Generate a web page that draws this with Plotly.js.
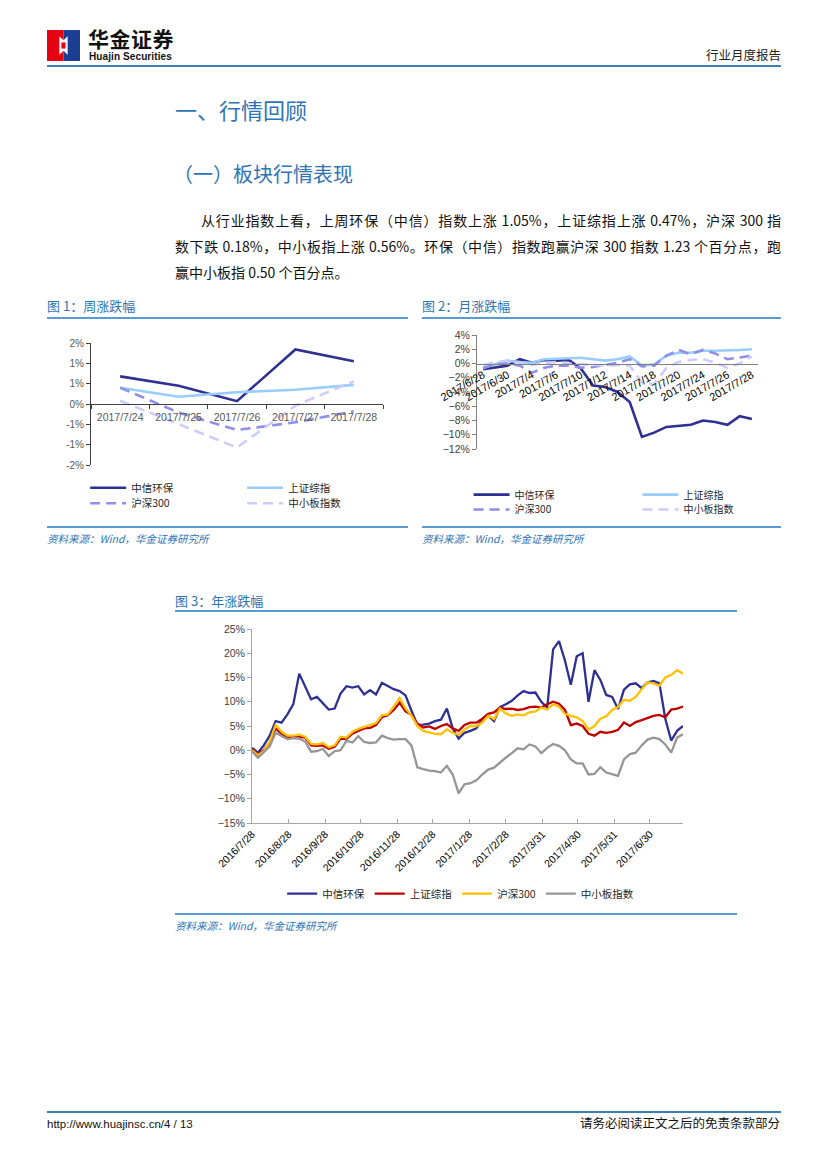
<!DOCTYPE html>
<html><head><meta charset="utf-8">
<script src="https://cdn.plot.ly/plotly-3.0.1.min.js"></script>
<style>
body{margin:0;width:827px;height:1169px;position:relative;background:#fff;overflow:hidden;font-family:"Liberation Sans",Arial,"Noto Sans CJK SC",sans-serif}
.a{position:absolute;white-space:nowrap;line-height:1.15}
.cjk{font-family:"Noto Sans CJK SC","Liberation Sans",sans-serif}
.ttl{font-size:13px;color:#2E74B5}
.src{font-size:10.5px;color:#2E74B5;font-style:italic}
.hl{position:absolute;height:1.5px;background:#5B9BD5}
.p{position:absolute;font-size:14px;line-height:26px;color:#111;white-space:nowrap;font-family:"Noto Sans CJK SC","Liberation Sans",sans-serif}
.j{text-align:justify;text-align-last:justify;white-space:normal}
</style></head><body>

<!-- header -->
<svg class="a" style="left:47px;top:30px" width="33" height="31" viewBox="0 0 32 30">
<rect x="0" y="0" width="16" height="30" fill="#E50012"/>
<rect x="16" y="0" width="16" height="30" fill="#1B3E93"/>
<polygon points="12,6 16,10 20,6 20,24 16,20 12,24" fill="#fff"/>
<rect x="14" y="12" width="4" height="6" fill="#E50012"/>
</svg>
<div class="a cjk" style="left:88px;top:28px;font-size:21px;line-height:1;font-weight:700;color:#111;letter-spacing:0.5px">华金证券</div>
<div class="a" style="left:89px;top:52px;font-size:10px;line-height:1;font-weight:700;color:#111;letter-spacing:0.1px">Huajin Securities</div>
<div class="a cjk" style="left:706px;top:49px;font-size:12.5px;line-height:1;color:#222">行业月度报告</div>
<div class="a" style="left:47px;top:65px;width:734px;height:2px;background:#3B7EB8"></div>

<div class="a cjk" style="left:175px;top:96px;font-size:22px;line-height:1.2;color:#2E74B5">一、行情回顾</div>
<div class="a cjk" style="left:173px;top:162px;font-size:20px;line-height:1.2;color:#2E74B5">（一）板块行情表现</div>

<div class="p j" style="left:201px;top:207px;width:580px">从行业指数上看，上周环保（中信）指数上涨 1.05%，上证综指上涨 0.47%，沪深 300 指</div>
<div class="p j" style="left:175px;top:233px;width:606px">数下跌 0.18%，中小板指上涨 0.56%。环保（中信）指数跑赢沪深 300 指数 1.23 个百分点，跑</div>
<div class="p" style="left:175px;top:259px">赢中小板指 0.50 个百分点。</div>

<!-- chart frames -->
<div class="a cjk ttl" style="left:47px;top:299px">图 1：周涨跌幅</div>
<div class="hl" style="left:47px;top:317px;width:361px"></div>
<div class="a cjk ttl" style="left:422px;top:299px">图 2：月涨跌幅</div>
<div class="hl" style="left:422px;top:317px;width:359px"></div>
<div class="hl" style="left:47px;top:526px;width:361px"></div>
<div class="hl" style="left:422px;top:526px;width:359px"></div>
<div class="a cjk src" style="left:47px;top:533px">资料来源：Wind，华金证券研究所</div>
<div class="a cjk src" style="left:422px;top:533px">资料来源：Wind，华金证券研究所</div>

<div class="a cjk ttl" style="left:175px;top:594px">图 3：年涨跌幅</div>
<div class="hl" style="left:175px;top:610px;width:562px"></div>
<div class="hl" style="left:175px;top:913px;width:562px"></div>
<div class="a cjk src" style="left:175px;top:920px">资料来源：Wind，华金证券研究所</div>

<div id="c1" class="a" style="left:40px;top:330px;width:370px;height:200px"></div>
<div id="c2" class="a" style="left:415px;top:325px;width:375px;height:200px"></div>
<div id="c3" class="a" style="left:170px;top:615px;width:570px;height:300px"></div>

<!-- footer -->
<div class="a" style="left:47px;top:1111px;width:734px;height:2px;background:#3B7EB8"></div>
<div class="a" style="left:47px;top:1118px;font-size:11.5px;color:#111">http://www.huajinsc.cn/4 / 13</div>
<div class="a cjk" style="left:580px;top:1116px;font-size:12.5px;color:#111">请务必阅读正文之后的免责条款部分</div>

<script>
// ---- shared ----
const seriesNames = ['中信环保', '上证综指', '沪深300', '中小板指数'];

// ---- chart 1: weekly (%) ----
const weekDates = ['2017/7/24', '2017/7/25', '2017/7/26', '2017/7/27', '2017/7/28'];
const weekHB  = [0.68, 0.45, 0.07, 1.34, 1.05];
const weekSZ  = [0.40, 0.18, 0.29, 0.35, 0.47];
const weekHS  = [0.40, -0.21, -0.64, -0.45, -0.18];
const weekZXB = [0.08, -0.50, -1.07, -0.04, 0.56];
const weekTickVals = [-1.5, -1, -0.5, 0, 0.5, 1, 1.5];
const weekTickText = ['-2%', '-1%', '-1%', '0%', '1%', '1%', '2%'];

// ---- chart 2: monthly (%) ----
const monthDates = ['2017/6/28','2017/6/29','2017/6/30','2017/7/3','2017/7/4','2017/7/5','2017/7/6','2017/7/7',
  '2017/7/10','2017/7/11','2017/7/12','2017/7/13','2017/7/14','2017/7/17','2017/7/18','2017/7/19','2017/7/20',
  '2017/7/21','2017/7/24','2017/7/25','2017/7/26','2017/7/27','2017/7/28'];
const monthHB  = [-0.8,-0.6,-0.3,0.6,0.1,0.5,0.4,0.5,-0.7,-3.1,-3.3,-4.0,-5.4,-10.3,-9.7,-8.9,-8.7,-8.6,-8.0,-8.2,-8.6,-7.4,-7.8];
const monthSZ  = [-0.6,-0.1,0.4,0.2,0.1,0.6,0.7,0.8,0.8,0.6,0.4,0.6,1.0,-0.3,-0.1,1.1,1.5,1.5,1.8,1.8,1.8,1.9,2.0];
const monthHS  = [-0.7,0.0,0.0,-0.3,-1.3,-0.6,-0.3,-0.3,-0.6,-0.5,-0.2,0.1,0.6,-0.4,-0.3,1.1,1.9,1.3,1.9,1.4,0.6,0.8,1.1];
const monthZXB = [-0.2,0.2,0.4,0.1,-0.2,0.1,0.2,0.0,-0.1,-0.2,-0.3,-0.2,-0.3,-2.7,-2.9,-0.6,0.2,0.5,0.6,0.1,-0.6,0.0,1.0];

// ---- chart 3: yearly (%) ----
const yearDates = ['2016-07-28','2016-08-02','2016-08-07','2016-08-12','2016-08-17','2016-08-22','2016-08-27','2016-09-01',
  '2016-09-06','2016-09-11','2016-09-16','2016-09-21','2016-09-26','2016-10-01','2016-10-06','2016-10-11','2016-10-16',
  '2016-10-21','2016-10-26','2016-10-31','2016-11-05','2016-11-10','2016-11-15','2016-11-20','2016-11-25','2016-11-30',
  '2016-12-05','2016-12-10','2016-12-15','2016-12-20','2016-12-25','2016-12-30','2017-01-04','2017-01-09','2017-01-14',
  '2017-01-19','2017-01-24','2017-01-29','2017-02-03','2017-02-08','2017-02-13','2017-02-18','2017-02-23','2017-02-28',
  '2017-03-05','2017-03-10','2017-03-15','2017-03-20','2017-03-25','2017-03-30','2017-04-04','2017-04-09','2017-04-14',
  '2017-04-19','2017-04-24','2017-04-29','2017-05-04','2017-05-09','2017-05-14','2017-05-19','2017-05-24','2017-05-29',
  '2017-06-03','2017-06-08','2017-06-13','2017-06-18','2017-06-23','2017-06-28','2017-07-03','2017-07-08','2017-07-13',
  '2017-07-18','2017-07-23','2017-07-28'];
const yearHB = [0.5,-0.5,1.0,3.0,6.0,5.7,7.4,9.5,15.8,13.0,
  10.5,11.0,9.8,8.4,8.6,11.7,13.2,12.9,13.2,11.5,
  12.4,11.5,13.9,13.2,12.6,12.2,11.3,8.2,5.2,5.3,
  5.5,6.0,6.3,8.6,4.5,2.4,3.6,4.0,4.5,6.4,
  7.1,6.0,8.9,9.5,10.2,11.3,12.2,11.8,11.9,10.0,
  8.8,20.8,22.5,18.5,13.5,19.4,20.0,10.0,16.5,14.5,
  11.4,11.0,8.5,12.5,13.6,13.8,12.8,14.0,14.3,13.8,
  6.5,2.0,4.0,5.0];
const yearSZ = [0.2,-0.8,0.0,1.5,4.5,3.4,2.6,2.9,2.8,2.6,
  1.0,0.9,1.0,0.3,0.7,2.4,2.3,3.4,4.0,4.5,
  4.6,5.2,6.8,7.2,8.3,9.8,8.0,7.3,5.5,4.7,
  4.9,4.4,5.0,5.4,4.5,4.0,5.2,5.7,5.7,6.5,
  7.5,7.8,8.8,8.5,8.6,8.3,8.5,8.9,9.0,8.8,
  9.5,10.0,9.6,8.3,5.2,5.5,5.0,3.4,3.0,3.8,
  3.6,3.8,4.2,5.7,5.0,5.8,6.2,6.6,7.1,7.3,
  6.8,8.4,8.6,9.0];
const yearHS = [0.0,-1.0,-0.2,1.8,5.2,3.8,3.0,3.0,3.2,2.8,
  1.3,1.2,1.5,0.6,1.0,2.8,2.6,3.8,4.4,4.8,
  5.2,5.6,7.2,7.4,9.0,10.8,8.6,7.2,5.0,4.0,
  3.7,3.4,3.3,4.3,3.6,3.2,4.3,5.0,5.0,5.7,
  7.1,6.4,8.6,7.6,7.1,7.4,7.2,7.8,8.0,8.8,
  8.4,9.5,9.0,7.5,7.1,6.8,6.0,4.3,5.0,6.5,
  7.0,8.3,8.9,10.4,10.2,11.0,12.6,14.0,13.8,13.3,
  15.0,15.5,16.5,15.8];
const yearZXB = [-0.2,-1.5,-0.4,0.8,3.6,2.9,2.3,2.5,2.4,1.8,
  -0.3,-0.2,0.3,-1.2,-0.2,0.0,2.0,1.6,2.9,1.7,
  1.5,1.6,3.0,2.5,2.2,2.3,2.3,1.0,-3.5,-3.9,
  -4.2,-4.3,-4.6,-3.2,-5.0,-8.9,-7.0,-6.8,-6.2,-5.0,
  -4.0,-3.6,-2.5,-1.5,-0.6,0.4,0.2,1.2,0.8,-0.6,
  0.5,1.3,0.9,0.0,-1.9,-2.7,-2.7,-5.0,-4.9,-3.5,
  -4.6,-4.9,-5.3,-1.9,-0.8,-0.5,1.0,2.2,2.6,2.3,
  1.2,-0.5,2.6,3.3];
const yearTickVals = ['2016-07-28','2016-08-28','2016-09-28','2016-10-28','2016-11-28','2016-12-28',
  '2017-01-28','2017-02-28','2017-03-31','2017-04-30','2017-05-31','2017-06-30'];
const yearTickText = ['2016/7/28','2016/8/28','2016/9/28','2016/10/28','2016/11/28','2016/12/28',
  '2017/1/28','2017/2/28','2017/3/31','2017/4/30','2017/5/31','2017/6/30'];

const FONT = '"Liberation Sans", Arial, "Noto Sans CJK SC", sans-serif';
const LFONT = '"Noto Sans CJK SC", "Liberation Sans", sans-serif';
const cfg = {staticPlot: true, displayModeBar: false};

// palette for charts 1-2
const P12 = ['#2E3192', '#99CCFF', '#8F8FEA', '#CCCCFF'];
const DASH = '10px,6px';

function tr(x, y, i, color, dash, legend, w) {
  return {x: x, y: y, name: seriesNames[i], type: 'scatter', mode: 'lines',
    line: {color: color, width: w, dash: dash || 'solid'}, legend: legend, hoverinfo: 'skip'};
}

// chart 1
Plotly.newPlot('c1', [
  tr(weekDates, weekHB, 0, P12[0], null, 'legend', 2.6),
  tr(weekDates, weekSZ, 1, P12[1], null, 'legend', 2.6),
  tr(weekDates, weekHS, 2, P12[2], DASH, 'legend2', 2.6),
  tr(weekDates, weekZXB, 3, P12[3], DASH, 'legend2', 2.6)
], {
  width: 370, height: 200,
  margin: {l: 51, r: 27, t: 12.7, b: 65, autoexpand: false},
  paper_bgcolor: 'rgba(0,0,0,0)', plot_bgcolor: 'rgba(0,0,0,0)',
  font: {family: FONT, size: 10, color: '#595959'},
  showlegend: true,
  xaxis: {type: 'category', range: [-0.5, 4.5], anchor: 'free', position: 0.5,
    showline: true, linecolor: '#404040', linewidth: 1, ticks: 'outside', tickson: 'boundaries',
    ticklen: 4, tickcolor: '#404040', showgrid: false, zeroline: false, ticklabelstandoff: 3,
    tickfont: {family: FONT, size: 10.5, color: '#595959'}},
  yaxis: {range: [-1.5, 1.5], tickmode: 'array', tickvals: weekTickVals, ticktext: weekTickText,
    showline: true, linecolor: '#404040', ticks: 'outside', ticklen: 4, tickcolor: '#404040',
    showgrid: false, zeroline: false, tickfont: {family: FONT, size: 10, color: '#595959'}},
  legend: {orientation: 'h', x: -0.02, xanchor: 'left', y: -0.186, yanchor: 'middle', itemwidth: 36,
    entrywidth: 106, font: {family: LFONT, size: 10.5, color: '#262626'}, bgcolor: 'rgba(0,0,0,0)'},
  legend2: {orientation: 'h', x: -0.02, xanchor: 'left', y: -0.313, yanchor: 'middle', itemwidth: 36,
    entrywidth: 106, font: {family: LFONT, size: 10.5, color: '#262626'}, bgcolor: 'rgba(0,0,0,0)'}
}, cfg);

// chart 2
Plotly.newPlot('c2', [
  tr(monthDates, monthHB, 0, P12[0], null, 'legend', 2.6),
  tr(monthDates, monthSZ, 1, P12[1], null, 'legend', 2.6),
  tr(monthDates, monthHS, 2, P12[2], DASH, 'legend2', 2.6),
  tr(monthDates, monthZXB, 3, P12[3], DASH, 'legend2', 2.6)
], {
  width: 375, height: 200,
  margin: {l: 61.7, r: 31.7, t: 10, b: 75.7, autoexpand: false},
  paper_bgcolor: 'rgba(0,0,0,0)', plot_bgcolor: 'rgba(0,0,0,0)',
  font: {family: FONT, size: 10, color: '#595959'},
  showlegend: true,
  xaxis: {type: 'category', range: [-0.5, 22.5], anchor: 'free', position: 0.75,
    showline: true, linecolor: '#808080', linewidth: 1, ticks: '', tickmode: 'linear', tick0: 0, dtick: 2,
    tickangle: -30, showgrid: false, zeroline: false,
    tickfont: {family: FONT, size: 11, color: '#000'}},
  yaxis: {range: [-12, 4], tickmode: 'linear', tick0: 0, dtick: 2, ticksuffix: '%',
    showline: true, linecolor: '#808080', ticks: 'outside', ticklen: 4, tickcolor: '#808080',
    showgrid: false, zeroline: false, tickfont: {family: FONT, size: 10.5, color: '#404040'}},
  legend: {orientation: 'h', x: -0.03, xanchor: 'left', y: -0.400, yanchor: 'middle', itemwidth: 36,
    entrywidth: 118, font: {family: LFONT, size: 10, color: '#262626'}, bgcolor: 'rgba(0,0,0,0)'},
  legend2: {orientation: 'h', x: -0.03, xanchor: 'left', y: -0.531, yanchor: 'middle', itemwidth: 36,
    entrywidth: 118, font: {family: LFONT, size: 10, color: '#262626'}, bgcolor: 'rgba(0,0,0,0)'}
}, cfg);

// chart 3
const P3 = ['#2E3192', '#C00000', '#FFC000', '#969696'];
Plotly.newPlot('c3', [
  tr(yearDates, yearHB, 0, P3[0], null, 'legend', 2.3),
  tr(yearDates, yearSZ, 1, P3[1], null, 'legend', 2.3),
  tr(yearDates, yearHS, 2, P3[2], null, 'legend', 2.3),
  tr(yearDates, yearZXB, 3, P3[3], null, 'legend', 2.3)
], {
  width: 570, height: 300,
  margin: {l: 82, r: 57, t: 14, b: 91.7, autoexpand: false},
  paper_bgcolor: 'rgba(0,0,0,0)', plot_bgcolor: 'rgba(0,0,0,0)',
  font: {family: FONT, size: 10, color: '#404040'},
  showlegend: true,
  xaxis: {type: 'date', range: ['2016-07-28', '2017-07-28'], tickmode: 'array',
    tickvals: yearTickVals, ticktext: yearTickText, tickangle: -45,
    showline: true, linecolor: '#A6A6A6', ticks: 'inside', ticklen: 4, tickcolor: '#A6A6A6',
    showgrid: false, zeroline: false, tickfont: {family: FONT, size: 10.5, color: '#000'}},
  yaxis: {range: [-15, 25], tickmode: 'linear', tick0: 0, dtick: 5, ticksuffix: '%',
    showline: true, linecolor: '#A6A6A6', ticks: 'outside', ticklen: 4, tickcolor: '#A6A6A6',
    showgrid: false, zeroline: false, tickfont: {family: FONT, size: 10.5, color: '#404040'}},
  legend: {orientation: 'h', x: 0.07, xanchor: 'left', y: -0.364, yanchor: 'middle',
    font: {family: LFONT, size: 10.5, color: '#262626'}, bgcolor: 'rgba(0,0,0,0)'}
}, cfg);
</script>
</body></html>
